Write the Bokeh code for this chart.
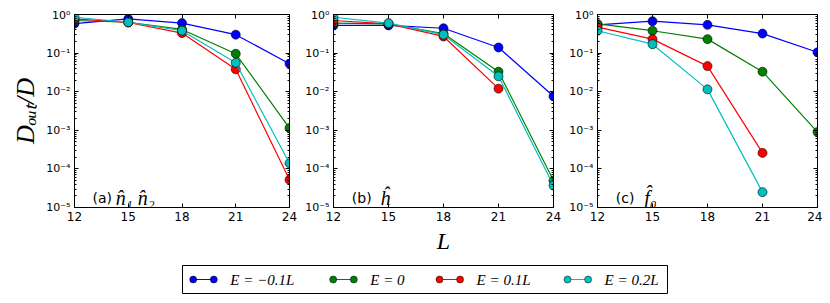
import math
from bokeh.plotting import figure
from bokeh.models import (Range1d, FixedTicker, LinearAxis, LogAxis, Label,
                          CustomJSTickFormatter, Spacer)
from bokeh.layouts import row, column
from bokeh.embed import file_html
from bokeh.resources import INLINE

nan = float("nan")

# ---------------- data ----------------
L = [12, 15, 18, 21, 24]
series_labels = ["E = \u22120.1L", "E = 0", "E = 0.1L", "E = 0.2L"]
colors = ["#0000ff", "#008000", "#ff0000", "#00bfbf"]

a_m01 = [0.58, 0.77, 0.60, 0.30, 0.053]
a_0 = [0.70, 0.63, 0.41, 0.096, 0.00114]
a_01 = [0.77, 0.62, 0.33, 0.038, 5.2e-5]
a_02 = [0.85, 0.63, 0.38, 0.056, 1.4e-4]

b_m01 = [0.52, 0.52, 0.44, 0.14, 0.0076]
b_0 = [0.60, 0.57, 0.32, 0.033, 5.0e-5]
b_01 = [0.70, 0.57, 0.27, 0.012, nan]
b_02 = [0.85, 0.60, 0.30, 0.025, 3.7e-5]

c_m01 = [0.54, 0.67, 0.54, 0.32, 0.105]
c_0 = [0.57, 0.38, 0.23, 0.033, 9.0e-4]
c_01 = [0.47, 0.23, 0.046, 2.6e-4, nan]
c_02 = [0.38, 0.17, 0.0115, 2.5e-5, nan]

panel_tags = ["(a)", "(b)", "(c)"]
panel_ops = ["n\u0302\u2081 n\u0302\u2082", "h\u0302", "f\u0302\u2080"]
y_title = "D\u2092\u1d64\u209c/D"
x_title = "L"
y_decades = [-5, -4, -3, -2, -1, 0]

panels = [[a_m01, a_0, a_01, a_02],
          [b_m01, b_0, b_01, b_02],
          [c_m01, c_0, c_01, c_02]]

# ---------------- helpers ----------------
major_y = [10.0 ** e for e in y_decades]
minor_y = [m * 10.0 ** e for e in y_decades[:-1] for m in range(2, 10)]

sup_fmt = CustomJSTickFormatter(code="""
const sup = {"-":"\u207b","0":"\u2070","1":"\u00b9","2":"\u00b2","3":"\u00b3",
             "4":"\u2074","5":"\u2075","6":"\u2076","7":"\u2077","8":"\u2078","9":"\u2079"};
const e = Math.round(Math.log10(tick));
return "10" + String(e).split("").map(c => sup[c]).join("");
""")

H = 250


def style_axis(ax, show_labels, size):
    ax.axis_line_color = "black"
    ax.major_tick_line_color = "black"
    ax.minor_tick_line_color = "black"
    ax.major_tick_in = 4
    ax.major_tick_out = 0
    ax.minor_tick_in = 2
    ax.minor_tick_out = 0
    ax.major_label_text_font = "DejaVu Sans"
    if show_labels:
        ax.major_label_text_color = "black"
        ax.major_label_text_font_size = size
        ax.major_label_standoff = 4
    else:
        ax.major_label_text_color = None
        ax.major_label_text_font_size = "1px"
        ax.major_label_standoff = 0


def make_panel(idx, width, bl, br, data):
    p = figure(width=width, height=H, x_range=Range1d(12, 24),
               y_range=Range1d(1e-5, 1), y_axis_type="log",
               output_backend="svg", toolbar_location=None,
               min_border_left=bl, min_border_right=br,
               min_border_top=6, min_border_bottom=51)
    p.grid.visible = False
    p.outline_line_color = "black"
    p.outline_line_alpha = 1
    p.background_fill_color = "white"
    p.border_fill_color = "white"

    bottom = p.below[0]
    left = p.left[0]
    bottom.ticker = FixedTicker(ticks=L, minor_ticks=[])
    left.ticker = FixedTicker(ticks=major_y, minor_ticks=minor_y)
    left.formatter = sup_fmt
    style_axis(bottom, True, "12px")
    style_axis(left, True, "11px")

    top = LinearAxis(ticker=FixedTicker(ticks=L, minor_ticks=[]))
    style_axis(top, False, "1px")
    p.add_layout(top, "above")
    right = LogAxis(ticker=FixedTicker(ticks=major_y, minor_ticks=minor_y))
    style_axis(right, False, "1px")
    p.add_layout(right, "right")

    for vals, col in zip(data, colors):
        p.line(L, vals, line_color=col, line_width=1.2)
        p.scatter(L, vals, marker="circle", size=9, fill_color=col,
                  line_color="black", line_width=0.6)

    tag_x = 13.0
    op_x = 14.3 if idx == 0 else 14.55
    p.add_layout(Label(x=tag_x, y=1.8e-5, text=panel_tags[idx],
                       text_font="DejaVu Sans", text_font_size="14px",
                       text_color="black", text_baseline="alphabetic"))
    p.add_layout(Label(x=op_x, y=1.8e-5, text=panel_ops[idx],
                       text_font="Liberation Serif", text_font_style="italic",
                       text_font_size="20px", text_color="black",
                       text_baseline="alphabetic"))
    return p, bottom, left


pa, _, pa_left = make_panel(0, 291, 62, 10, panels[0])
pb, pb_bottom, _ = make_panel(1, 264, 34, 10, panels[1])
pc, _, _ = make_panel(2, 259, 34, 5, panels[2])

pa_left.axis_label = y_title
pa_left.axis_label_text_font = "Liberation Serif"
pa_left.axis_label_text_font_style = "italic"
pa_left.axis_label_text_font_size = "26px"
pa_left.axis_label_text_color = "black"
pa_left.axis_label_standoff = 3

pb_bottom.axis_label = x_title
pb_bottom.axis_label_text_font = "Liberation Serif"
pb_bottom.axis_label_text_font_style = "italic"
pb_bottom.axis_label_text_font_size = "24px"
pb_bottom.axis_label_text_color = "black"
pb_bottom.axis_label_standoff = 4

# legend figure
leg = figure(width=487, height=30, x_range=Range1d(0, 485), y_range=Range1d(0, 28),
             output_backend="svg", toolbar_location=None, min_border=1)
leg.axis.visible = False
leg.grid.visible = False
leg.outline_line_color = "black"
leg.outline_line_alpha = 1
handle_start = [10.7, 150.7, 257, 385]
handle_len = 20.6
for i, (lab, col) in enumerate(zip(series_labels, colors)):
    x0 = handle_start[i]
    x1 = x0 + handle_len
    leg.line([x0, x1], [14, 14], line_color=col, line_width=1.2)
    leg.scatter([x0, x1], [14, 14], marker="circle", size=7, fill_color=col,
                line_color="black", line_width=0.5)
    leg.add_layout(Label(x=x1 + 16.5, y=14, text=lab, text_font="Liberation Serif",
                         text_font_style="italic", text_font_size="15px",
                         text_color="black", text_baseline="middle"))

content = column(row(pa, pb, pc),
                 Spacer(width=10, height=6),
                 row(Spacer(width=173, height=30), leg))
layout = column(Spacer(width=10, height=8), row(Spacer(width=8, height=10), content))

open("out.html", "w").write(file_html(layout, INLINE))
